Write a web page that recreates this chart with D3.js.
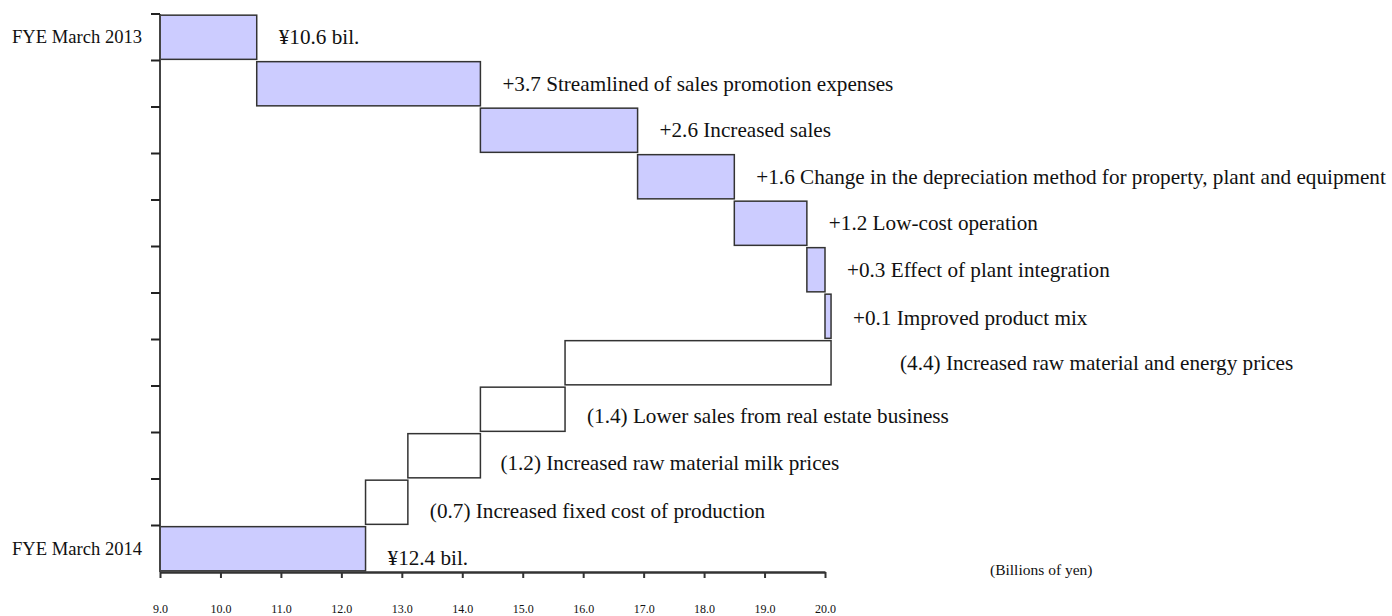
<!DOCTYPE html>
<html>
<head>
<meta charset="utf-8">
<script src="https://cdn.jsdelivr.net/npm/d3@7"></script>
<style>
  body { margin: 0; background: #fff; }
  text { font-family: "Liberation Serif", "Times New Roman", serif; fill: #111; }
</style>
</head>
<body>
<svg id="chart" width="1392" height="616"></svg>
<script>
// rows top to bottom
const steps = ["FYE March 2013", "promo", "sales", "depr", "lowcost", "plant", "mix",
               "rawenergy", "realestate", "milk", "fixed", "FYE March 2014"];
const starts = [9.0, 10.6, 14.3, 16.9, 18.5, 19.7, 20.0, 20.1, 15.7, 14.3, 13.1, 9.0];
const ends   = [10.6, 14.3, 16.9, 18.5, 19.7, 20.0, 20.1, 15.7, 14.3, 13.1, 12.4, 12.4];
const kinds  = ["total", "up", "up", "up", "up", "up", "up", "down", "down", "down", "down", "total"];
const labels = [
  "¥10.6 bil.",
  "+3.7 Streamlined of sales promotion expenses",
  "+2.6 Increased sales",
  "+1.6 Change in the depreciation method for property, plant and equipment",
  "+1.2 Low-cost operation",
  "+0.3 Effect of plant integration",
  "+0.1 Improved product mix",
  "(4.4) Increased raw material and energy prices",
  "(1.4) Lower sales from real estate business",
  "(1.2) Increased raw material milk prices",
  "(0.7) Increased fixed cost of production",
  "¥12.4 bil."
];
const xTicks = [9, 10, 11, 12, 13, 14, 15, 16, 17, 18, 19, 20];
const unitLabel = "(Billions of yen)";

const svg = d3.select("#chart");

const x = d3.scaleLinear().domain([9, 20]).range([160, 825]);
const y = d3.scaleBand().domain(steps).range([14, 572]).paddingInner(0.05).paddingOuter(0.025);

// bars
svg.selectAll(".bar").data(steps).enter().append("rect").attr("class", "bar")
  .attr("x", (d, i) => x(Math.min(starts[i], ends[i])))
  .attr("y", d => y(d))
  .attr("width", (d, i) => Math.abs(x(ends[i]) - x(starts[i])))
  .attr("height", y.bandwidth())
  .style("fill", (d, i) => kinds[i] == "down" ? "#fff" : "#ccccff")
  .style("stroke", "#333")
  .style("stroke-width", 1.5);

// left axis: line + ticks on row boundaries
const step = y.step();
const bounds = d3.range(steps.length).map(i => 14 + i * step);
svg.append("line").attr("x1", 160).attr("x2", 160).attr("y1", 14).attr("y2", 572)
  .style("stroke", "#444").style("stroke-width", 2);
svg.selectAll(".ytick").data(bounds).enter().append("line").attr("class", "ytick")
  .attr("x1", 151).attr("x2", 160).attr("y1", d => d).attr("y2", d => d)
  .style("stroke", "#222").style("stroke-width", 2);

// bottom axis
const xAxis = svg.append("g").attr("transform", "translate(0,572)")
  .call(d3.axisBottom(x).tickValues(xTicks).tickSize(6).tickSizeOuter(0).tickFormat(d3.format(".1f")).tickPadding(26));
xAxis.select(".domain").style("stroke", "#333").style("stroke-width", 2.5);
xAxis.selectAll(".tick line").style("stroke", "#333").style("stroke-width", 2);
xAxis.selectAll("text").style("font-family", "Liberation Serif, serif").style("font-size", "12px").style("fill", "#111");

svg.append("text").attr("x", 990).attr("y", 575).text(unitLabel).style("font-size", "15.5px");

// category labels for totals
svg.selectAll(".cat").data(steps.filter((d, i) => kinds[i] == "total")).enter().append("text")
  .attr("class", "cat")
  .attr("x", 12).attr("y", d => y(d) + y.bandwidth() / 2 + 6)
  .style("font-size", "18.6px")
  .text(d => d);

// value labels
const labelDx = [22, 22, 22, 22, 22, 22, 22, 69, 22, 20, 22, 22];
const labelDy = [0, 0, 0, 0, 0, 0, 2, 0, 7, 7, 9, 9];
svg.selectAll(".lbl").data(steps).enter().append("text").attr("class", "lbl")
  .attr("x", (d, i) => x(Math.max(starts[i], ends[i])) + labelDx[i])
  .attr("y", (d, i) => y(d) + y.bandwidth() / 2 + 7 + labelDy[i])
  .style("font-size", "21.2px")
  .text((d, i) => labels[i]);
</script>
</body>
</html>
